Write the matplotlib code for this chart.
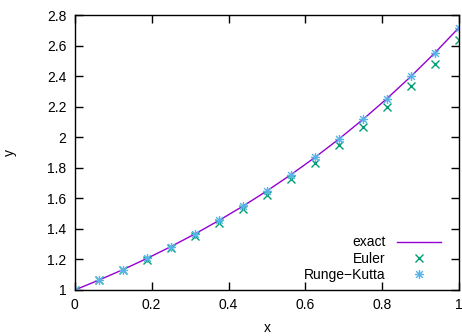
import matplotlib
matplotlib.use("Agg")
import matplotlib.pyplot as plt
from matplotlib.path import Path

plt.rcParams['font.family'] = ['Liberation Sans', 'DejaVu Sans']

# valores (h = 1/16)
x_pts = [0.0, 0.0625, 0.125, 0.1875, 0.25, 0.3125, 0.375, 0.4375, 0.5,
         0.5625, 0.625, 0.6875, 0.75, 0.8125, 0.875, 0.9375, 1.0]
y_exacta = [1.0, 1.0645, 1.1331, 1.2062, 1.2840, 1.3668, 1.4550, 1.5488, 1.6487,
            1.7551, 1.8682, 1.9887, 2.1170, 2.2535, 2.3989, 2.5536, 2.7183]
y_euler = [1.0, 1.0625, 1.1289, 1.1995, 1.2744, 1.3541, 1.4387, 1.5286, 1.6242,
           1.7257, 1.8335, 1.9481, 2.0699, 2.1993, 2.3367, 2.4828, 2.6379]
y_rk = [1.0, 1.0645, 1.1331, 1.2062, 1.2840, 1.3668, 1.4550, 1.5488, 1.6487,
        1.7551, 1.8682, 1.9887, 2.1170, 2.2535, 2.3989, 2.5536, 2.7183]

xticks = [0, 0.2, 0.4, 0.6, 0.8, 1]
xtick_labels = ['0', '0.2', '0.4', '0.6', '0.8', '1']
yticks = [1, 1.2, 1.4, 1.6, 1.8, 2, 2.2, 2.4, 2.6, 2.8]
ytick_labels = ['1', '1.2', '1.4', '1.6', '1.8', '2', '2.2', '2.4', '2.6', '2.8']

# marcador tipo asterisco de gnuplot (cruz + aspa)
d = 0.75
asterisco = Path([(-1, 0), (1, 0), (0, -1), (0, 1), (-d, -d), (d, d), (-d, d), (d, -d)],
                 [Path.MOVETO, Path.LINETO] * 4)

fig = plt.figure(figsize=(4.62, 3.36), dpi=100)
ax = fig.add_axes([0.162, 0.137, 0.8315, 0.818])

ax.plot(x_pts, y_exacta, color='#9400d3', linewidth=1.0, label='exact')
ax.plot(x_pts, y_euler, linestyle='none', marker='x', markersize=5.5,
        markeredgewidth=1.0, color='#009e73', label='Euler')
ax.plot(x_pts, y_rk, linestyle='none', marker=asterisco, markersize=6.5,
        markeredgewidth=1.0, color='#56b4e9', label='Runge\u2212Kutta')

ax.set_xlim(0, 1)
ax.set_ylim(1, 2.8)
ax.set_xticks(xticks)
ax.set_xticklabels(xtick_labels)
ax.set_yticks(yticks)
ax.set_yticklabels(ytick_labels)
ax.tick_params(direction='in', top=True, right=True, length=6, width=1,
               labelsize=10, colors='black', pad=6)
for s in ax.spines.values():
    s.set_linewidth(1.0)

ax.set_xlabel('x', fontsize=10, labelpad=6)
ax.set_ylabel('y', fontsize=10, labelpad=22)

ax.legend(loc='lower right', bbox_to_anchor=(0.975, 0.0), frameon=False,
          markerfirst=False, fontsize=10, handlelength=3.2, handletextpad=0.8,
          labelspacing=0.15, borderaxespad=0.2)

fig.savefig('out.png', dpi=100)
